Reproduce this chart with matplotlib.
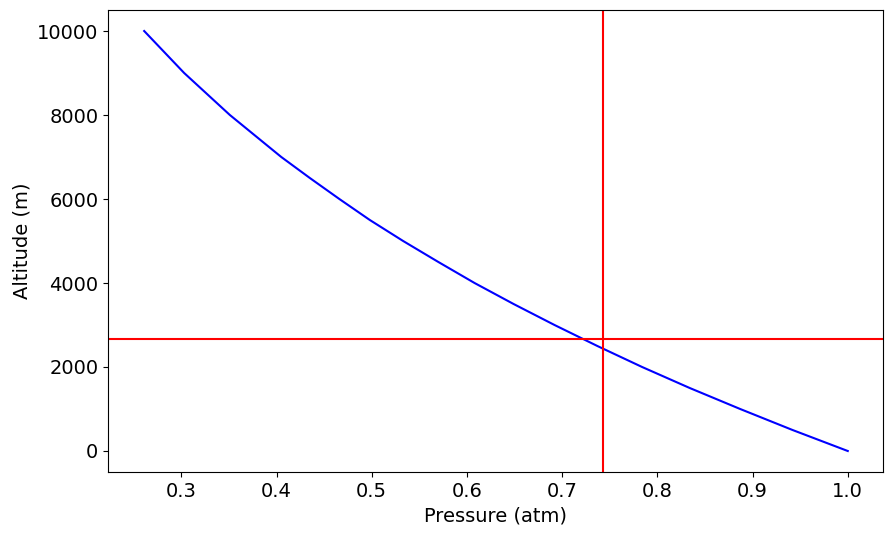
import matplotlib
matplotlib.use("Agg")
import matplotlib.pyplot as plt

altitude = [0, 500, 1000, 1500, 2000, 2500, 3000, 3500, 4000, 4500, 5000,
            5500, 6000, 6500, 7000, 7500, 8000, 8500, 9000, 9500, 10000]
pressure = [1.0, 0.942, 0.887, 0.834, 0.784, 0.737, 0.692, 0.649, 0.608, 0.570, 0.533,
            0.498, 0.466, 0.435, 0.405, 0.378, 0.351, 0.327, 0.303, 0.282, 0.261]
vline_p = 0.743
hline_h = 2667

fig = plt.figure(figsize=(8.93, 5.35), dpi=100)
ax = fig.add_axes([108/893, 1-472/535, 775/893, 462/535])
ax.plot(pressure, altitude, color="blue")
ax.axvline(vline_p, color="red")
ax.axhline(hline_h, color="red")
ax.set_xlabel("Pressure (atm)", fontsize=14)
ax.set_ylabel("Altitude (m)", fontsize=14)
ax.tick_params(labelsize=14)
ax.set_xlim(0.223, 1.037)
ax.set_ylim(-500, 10500)
fig.savefig("out.png", dpi=100)
